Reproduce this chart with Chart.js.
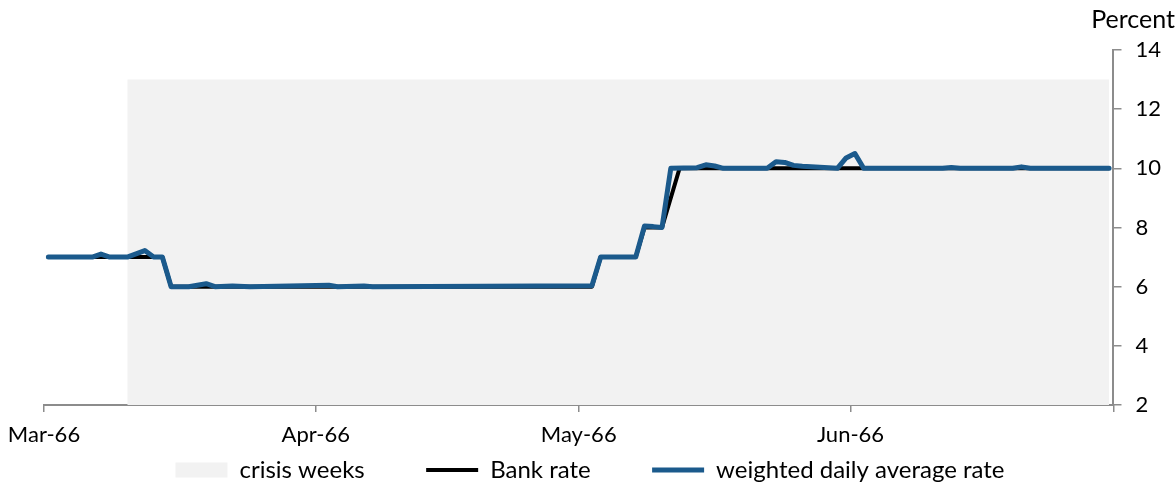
<!DOCTYPE html>
<html>
<head>
<meta charset="utf-8">
<script src="https://cdn.jsdelivr.net/npm/chart.js@4/dist/chart.umd.min.js"></script>
<style>
  html, body { margin: 0; padding: 0; background: #fff; }
  #wrap { width: 1175px; height: 486px; }
</style>
</head>
<body>
<div id="wrap"><canvas id="chart"></canvas></div>
<script>
// day index counted from 1 Mar 1966 (0 = Mar 1)
const monthTicks = [-0.5, 30.5, 60.5, 91.5, 121.5];
const monthLabels = ['Mar-66', 'Apr-66', 'May-66', 'Jun-66', ''];

const crisisDays = [9, 121];
const crisisLevel = [13, 13];

const bankDays = [0, 13, 14, 62, 63, 67, 68, 70, 72, 121];
const bankRate = [7, 7, 6, 6, 7, 7, 8, 8, 10, 10];

const avgDays = [0, 5, 6, 7, 9, 11, 12, 13, 14, 16, 18, 19, 21, 23, 32, 33, 36, 37,
    62, 63, 67, 68, 69, 70, 71, 74, 75, 76, 77, 82, 83, 84, 85, 86, 90, 91, 92, 93,
    102, 103, 104, 110, 111, 112, 121];
const avgRate = [7.0, 7.0, 7.1, 7.0, 7.0, 7.22, 7.0, 7.0, 6.0, 6.0, 6.1, 6.0, 6.02, 6.0, 6.05, 6.0, 6.02, 6.0,
    6.03, 7.0, 7.0, 8.05, 8.03, 8.0, 10.0, 10.02, 10.12, 10.08, 10.0, 10.0, 10.22, 10.2, 10.1, 10.07, 10.0, 10.35, 10.5, 10.0,
    10.0, 10.03, 10.0, 10.0, 10.05, 10.0, 10.0];

const toPoints = (xs, ys) => xs.map((x, i) => ({ x: x, y: ys[i] }));

const FONT = 'Lato, "Open Sans", sans-serif';
const AXIS_COLOR = '#8c8c8c';
const BLUE = '#1B5A8C';
// extra room after the first two legend entries
const LEGEND_GAP = '          ';

const ctx = document.getElementById('chart').getContext('2d');

new Chart(ctx, {
    type: 'line',
    data: {
        datasets: [
            {
                label: 'crisis weeks',
                data: toPoints(crisisDays, crisisLevel),
                backgroundColor: '#F2F2F2',
                borderColor: '#F2F2F2',
                borderWidth: 0,
                fill: 'start',
                pointRadius: 0,
                pointStyle: 'rect',
                order: 2
            },
            {
                label: 'Bank rate',
                data: toPoints(bankDays, bankRate),
                borderColor: '#000000',
                backgroundColor: '#000000',
                borderWidth: 4,
                fill: false,
                pointRadius: 0,
                pointStyle: 'line',
                tension: 0,
                borderJoinStyle: 'round',
                borderCapStyle: 'round',
                order: 1
            },
            {
                label: 'weighted daily average rate',
                data: toPoints(avgDays, avgRate),
                borderColor: BLUE,
                backgroundColor: BLUE,
                borderWidth: 5,
                fill: false,
                pointRadius: 0,
                pointStyle: 'line',
                tension: 0,
                borderJoinStyle: 'round',
                borderCapStyle: 'round',
                order: 0
            }
        ]
    },
    options: {
        responsive: true,
        maintainAspectRatio: false,
        animation: false,
        layout: {
            padding: { left: 5, right: 0, top: 0, bottom: -6 }
        },
        plugins: {
            tooltip: { enabled: false },
            title: {
                display: true,
                text: 'Percent',
                align: 'end',
                color: '#000',
                font: { family: FONT, size: 25, weight: 'normal' },
                padding: { top: 5, bottom: 15 }
            },
            legend: {
                position: 'bottom',
                labels: {
                    usePointStyle: true,
                    pointStyleWidth: 52,
                    boxHeight: 15,
                    padding: 0,
                    color: '#000',
                    font: { family: FONT, size: 24 },
                    sort: (a, b) => a.datasetIndex - b.datasetIndex,
                    generateLabels: chart => {
                        const items = Chart.defaults.plugins.legend.labels.generateLabels(chart);
                        items.forEach(item => {
                            if (item.datasetIndex < 2) item.text = item.text + LEGEND_GAP;
                        });
                        return items;
                    }
                }
            }
        },
        scales: {
            x: {
                type: 'linear',
                min: -0.5,
                max: 121.5,
                afterBuildTicks: axis => {
                    axis.ticks = monthTicks.map(v => ({ value: v }));
                },
                afterFit: axis => {
                    axis.paddingLeft = 44;
                },
                grid: {
                    drawOnChartArea: false,
                    drawTicks: true,
                    tickLength: 7,
                    color: AXIS_COLOR,
                    lineWidth: 1.5
                },
                border: { color: AXIS_COLOR, width: 2 },
                ticks: {
                    autoSkip: false,
                    maxRotation: 0,
                    color: '#000',
                    padding: 12,
                    font: { family: FONT, size: 22, lineHeight: 1.0 },
                    callback: (value, index) => monthLabels[index]
                }
            },
            y: {
                position: 'right',
                min: 2,
                max: 14,
                grid: {
                    drawOnChartArea: false,
                    drawTicks: true,
                    tickLength: 8,
                    color: AXIS_COLOR,
                    lineWidth: 1.5
                },
                border: { color: AXIS_COLOR, width: 2 },
                ticks: {
                    stepSize: 2,
                    color: '#000',
                    padding: 14,
                    font: { family: FONT, size: 22 }
                }
            }
        }
    }
});
</script>
</body>
</html>
